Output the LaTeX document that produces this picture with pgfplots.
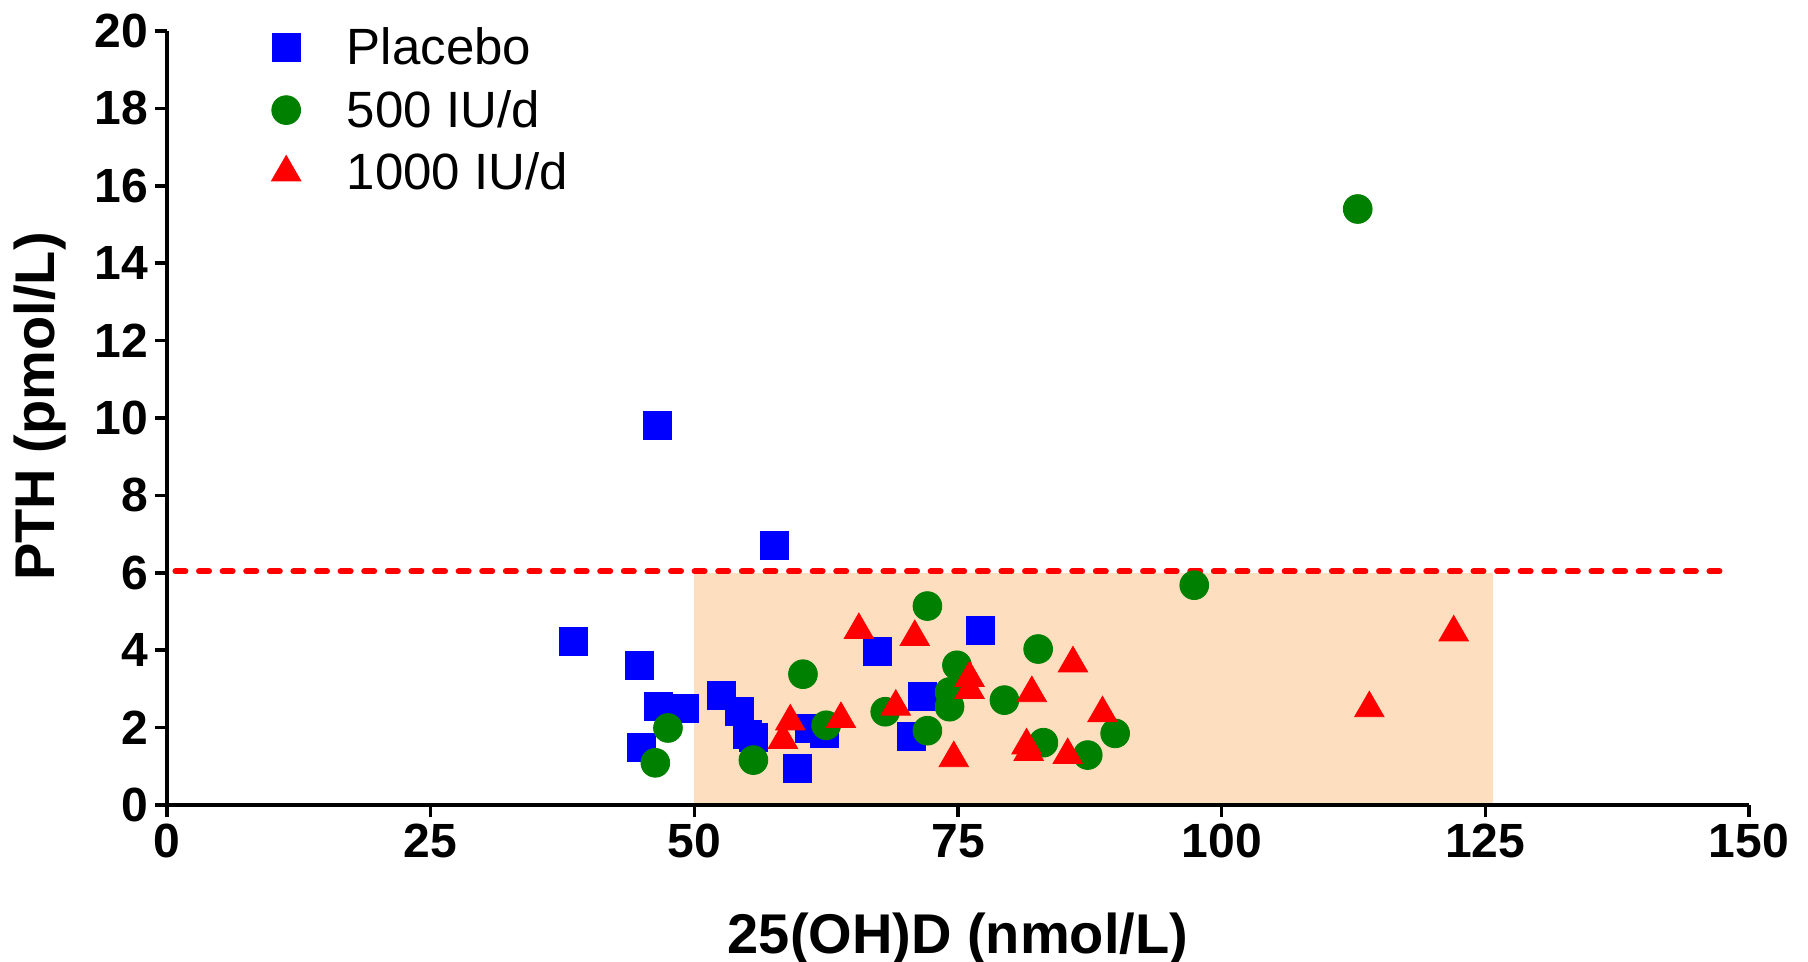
\documentclass[border=0pt]{standalone}
\usepackage{fontspec}
\setmainfont{Liberation Sans}
\usepackage{pgfplots}
\pgfplotsset{compat=1.18}
\usetikzlibrary{calc}

\definecolor{peach}{RGB}{253,223,192}
\definecolor{pgreen}{RGB}{0,128,0}

\begin{document}
\begin{tikzpicture}
  \begin{axis}[
      name=ax,
      scale only axis,
      width=791pt, height=387pt,
      xmin=0, xmax=150, ymin=0, ymax=20,
      axis x line*=bottom, axis y line*=left,
      axis line style={line width=1.8pt},
      xtick={0,25,...,150}, ytick={0,2,...,20},
      tick align=outside,
      major tick length=6pt,
      tick style={line width=1.8pt, black},
      /pgf/number format/assume math mode=true,
      ticklabel style={font=\fontsize{24}{28}\selectfont\bfseries},
      label style={font=\fontsize{28}{32}\selectfont\bfseries},
      xlabel={25(OH)D (nmol/L)},
      ylabel={PTH (pmol/L)},
      xlabel style={at={(axis description cs:0.5,-0.173)}, anchor=center},
      ylabel style={at={(axis description cs:-0.080,0.515)}, anchor=center},
      axis on top,
      clip=false,
      legend style={draw=none, fill=none,
        at={(axis description cs:0.062,1.015)}, anchor=north west,
        font=\fontsize{25.5}{29}\selectfont,
        row sep=7.2pt,
        /tikz/every odd column/.append style={column sep=21pt},
        legend cell align=left},
    ]
    % reference range and cut-off
    \addplot[fill=peach, draw=none, forget plot] coordinates {(50,6) (125.7,6)} \closedcycle;
    \addplot[red, line width=3pt, line cap=round, dash pattern=on 5pt off 6.8pt, forget plot] coordinates {(0.8,6.04) (148.4,6.04)};

    \addplot[only marks, mark=square*, mark size=7pt, color=blue] coordinates {
      (46.5,9.82) (57.6,6.70) (38.5,4.23) (44.8,3.60) (45.0,1.50)
      (46.6,2.55) (49.1,2.49) (52.6,2.84) (54.3,2.41) (55.0,1.82)
      (55.6,1.75) (59.8,0.94) (60.9,1.97) (62.3,1.85) (67.4,3.96)
      (70.6,1.78) (71.6,2.80) (77.1,4.52)
    };
    \addplot[only marks, mark=*, mark size=7.2pt, color=pgreen] coordinates {
      (112.9,15.40) (97.4,5.68) (72.1,5.14) (60.3,3.38) (82.6,4.03)
      (74.9,3.61) (74.2,2.92) (74.2,2.54) (79.4,2.71) (68.1,2.41)
      (62.5,2.06) (72.1,1.92) (83.1,1.61) (87.3,1.29) (89.9,1.85)
      (47.5,1.99) (46.3,1.09) (55.6,1.16)
    };
    \addplot[only marks, mark=triangle*, mark size=8.5pt, color=red] coordinates {
      (122.0,4.46) (114.0,2.50) (65.6,4.52) (70.9,4.34) (85.9,3.66)
      (76.1,3.28) (76.1,2.97) (82.0,2.89) (69.1,2.54) (63.9,2.22)
      (59.1,2.16) (58.4,1.68) (74.6,1.21) (81.5,1.54) (81.7,1.37)
      (85.4,1.29) (88.7,2.37)
    };
    \legend{Placebo, 500 IU/d, 1000 IU/d}
  \end{axis}
  \pgfresetboundingbox
  \path[use as bounding box] ([xshift=-83.5pt,yshift=-78.5pt]ax.south west)
    rectangle ([xshift=29.5pt,yshift=15.5pt]ax.north east);
\end{tikzpicture}
\end{document}
